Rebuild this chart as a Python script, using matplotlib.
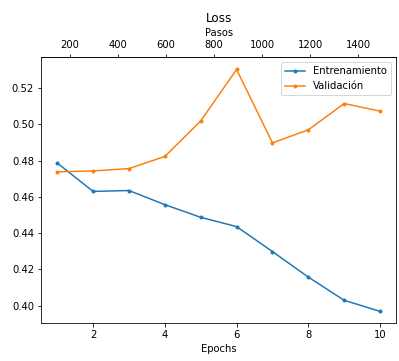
import numpy as np
import matplotlib
matplotlib.use("Agg")
import matplotlib.pyplot as plt

epochs = [1, 2, 3, 4, 5, 6, 7, 8, 9, 10]
train_loss = [0.4787, 0.4630, 0.4635, 0.4557, 0.4487, 0.4436, 0.4298, 0.4157, 0.4029, 0.3968]
val_loss = [0.4738, 0.4743, 0.4756, 0.4823, 0.5019, 0.5303, 0.4898, 0.4970, 0.5115, 0.5073]
steps_per_epoch = 149

fig = plt.figure(figsize=(399 / 72, 361 / 72), dpi=72)
ax = fig.add_axes([0.103, 0.104, 0.890, 0.737])

ax.plot(epochs, train_loss, marker=".", label="Entrenamiento")
ax.plot(epochs, val_loss, marker=".", label="Validación")
ax.set_xlabel("Epochs")
ax.set_title("Loss")
ax.legend(loc="upper right")

sec = ax.secondary_xaxis("top", functions=(lambda e: e * steps_per_epoch,
                                            lambda s: s / steps_per_epoch))
sec.set_xlabel("Pasos")

fig.savefig("out.png", dpi=72)
